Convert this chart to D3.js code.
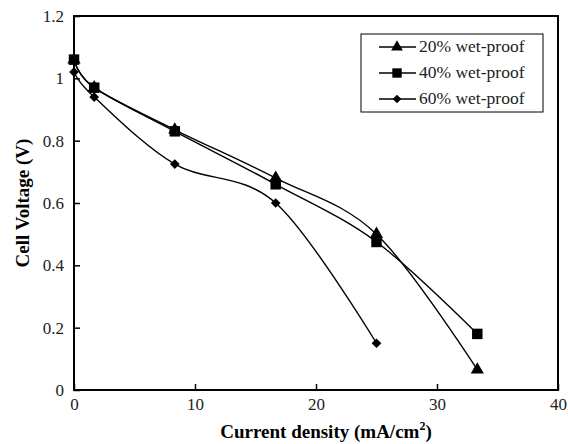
<!DOCTYPE html>
<html>
<head>
<meta charset="utf-8">
<script src="https://cdn.jsdelivr.net/npm/d3@7"></script>
<style>
  body { margin: 0; background: #fff; }
  svg { display: block; font-family: "Liberation Serif", "Times New Roman", serif; }
</style>
</head>
<body>
<svg id="chart" width="568" height="444"></svg>
<script>
// current density (mA/cm2) and cell voltage (V)
const x20 = [0, 1.67, 8.33, 16.67, 25, 33.33];
const y20 = [1.06, 0.97, 0.835, 0.68, 0.50, 0.065];
const x40 = [0, 1.67, 8.33, 16.67, 25, 33.33];
const y40 = [1.06, 0.97, 0.83, 0.66, 0.475, 0.18];
const x60 = [0, 1.67, 8.33, 16.67, 25];
const y60 = [1.02, 0.94, 0.725, 0.60, 0.15];
const xTicks = [0, 10, 20, 30, 40];
const yTicks = [0, 0.2, 0.4, 0.6, 0.8, 1, 1.2];
const labels = ['20% wet-proof', '40% wet-proof', '60% wet-proof'];

const series = [
  { name: labels[0], xs: x20, ys: y20, sym: d3.symbolTriangle, size: 75 },
  { name: labels[1], xs: x40, ys: y40, sym: d3.symbolSquare, size: 110 },
  { name: labels[2], xs: x60, ys: y60, sym: d3.symbolDiamond2, size: 60 }
];

const m = { left: 74, right: 558, top: 16, bottom: 390 };
const svg = d3.select('#chart');

const x = d3.scaleLinear().domain([0, 40]).range([m.left, m.right]);
const y = d3.scaleLinear().domain([0, 1.2]).range([m.bottom, m.top]);

// frame
svg.append('rect')
  .attr('x', m.left).attr('y', m.top)
  .attr('width', m.right - m.left).attr('height', m.bottom - m.top)
  .attr('fill', 'none').attr('stroke', '#000').attr('stroke-width', 2);

// axes, ticks pointing inward
const xAxis = svg.append('g').attr('transform', `translate(0,${m.bottom})`)
  .call(d3.axisBottom(x).tickValues(xTicks).tickSizeInner(-6).tickSizeOuter(0).tickPadding(8).tickFormat(d3.format('d')));
const yAxis = svg.append('g').attr('transform', `translate(${m.left},0)`)
  .call(d3.axisLeft(y).tickValues(yTicks).tickSizeInner(-6).tickSizeOuter(0).tickPadding(10).tickFormat(d => String(+d.toFixed(1))));
[xAxis, yAxis].forEach(a => {
  a.select('.domain').remove();
  a.selectAll('line').attr('stroke', '#000').attr('stroke-width', 1.5);
  a.selectAll('text').attr('font-size', 17).attr('fill', '#222')
    .attr('font-family', '"Liberation Serif", serif');
});
yAxis.selectAll('text').attr('x', -10);

// titles
svg.append('text')
  .attr('x', 326).attr('y', 438).attr('text-anchor', 'middle')
  .attr('font-size', 19).attr('font-weight', 'bold')
  .html('Current density (mA/cm<tspan dy="-8" font-size="12">2</tspan><tspan dy="8">)</tspan>');
svg.append('text')
  .attr('transform', 'translate(29,203) rotate(-90)').attr('text-anchor', 'middle')
  .attr('font-size', 19).attr('font-weight', 'bold')
  .text('Cell Voltage (V)');

// lines
const line = d3.line().curve(d3.curveCatmullRom.alpha(0))
  .x(d => x(d[0])).y(d => y(d[1]));

series.forEach(s => {
  const pts = s.xs.map((v, i) => [v, s.ys[i]]);
  svg.append('path').datum(pts)
    .attr('d', line).attr('fill', 'none').attr('stroke', '#000').attr('stroke-width', 1.4);
  svg.append('g').selectAll('path').data(pts).join('path')
    .attr('transform', d => `translate(${x(d[0])},${y(d[1])})`)
    .attr('d', d3.symbol().type(s.sym).size(s.size))
    .attr('fill', '#000');
});

// legend
const lg = svg.append('g');
lg.append('rect').attr('x', 361).attr('y', 34).attr('width', 182).attr('height', 78)
  .attr('fill', '#fff').attr('stroke', '#000').attr('stroke-width', 1);
series.forEach((s, i) => {
  const ly = 47 + i * 26;
  lg.append('line').attr('x1', 379).attr('x2', 416).attr('y1', ly).attr('y2', ly)
    .attr('stroke', '#000').attr('stroke-width', 1.4);
  lg.append('path').attr('transform', `translate(397,${ly})`)
    .attr('d', d3.symbol().type(s.sym).size(s.size * 0.8)).attr('fill', '#000');
  lg.append('text').attr('x', 419).attr('y', ly + 5).attr('font-size', 17.5).attr('fill', '#222')
    .text(s.name);
});
</script>
</body>
</html>
